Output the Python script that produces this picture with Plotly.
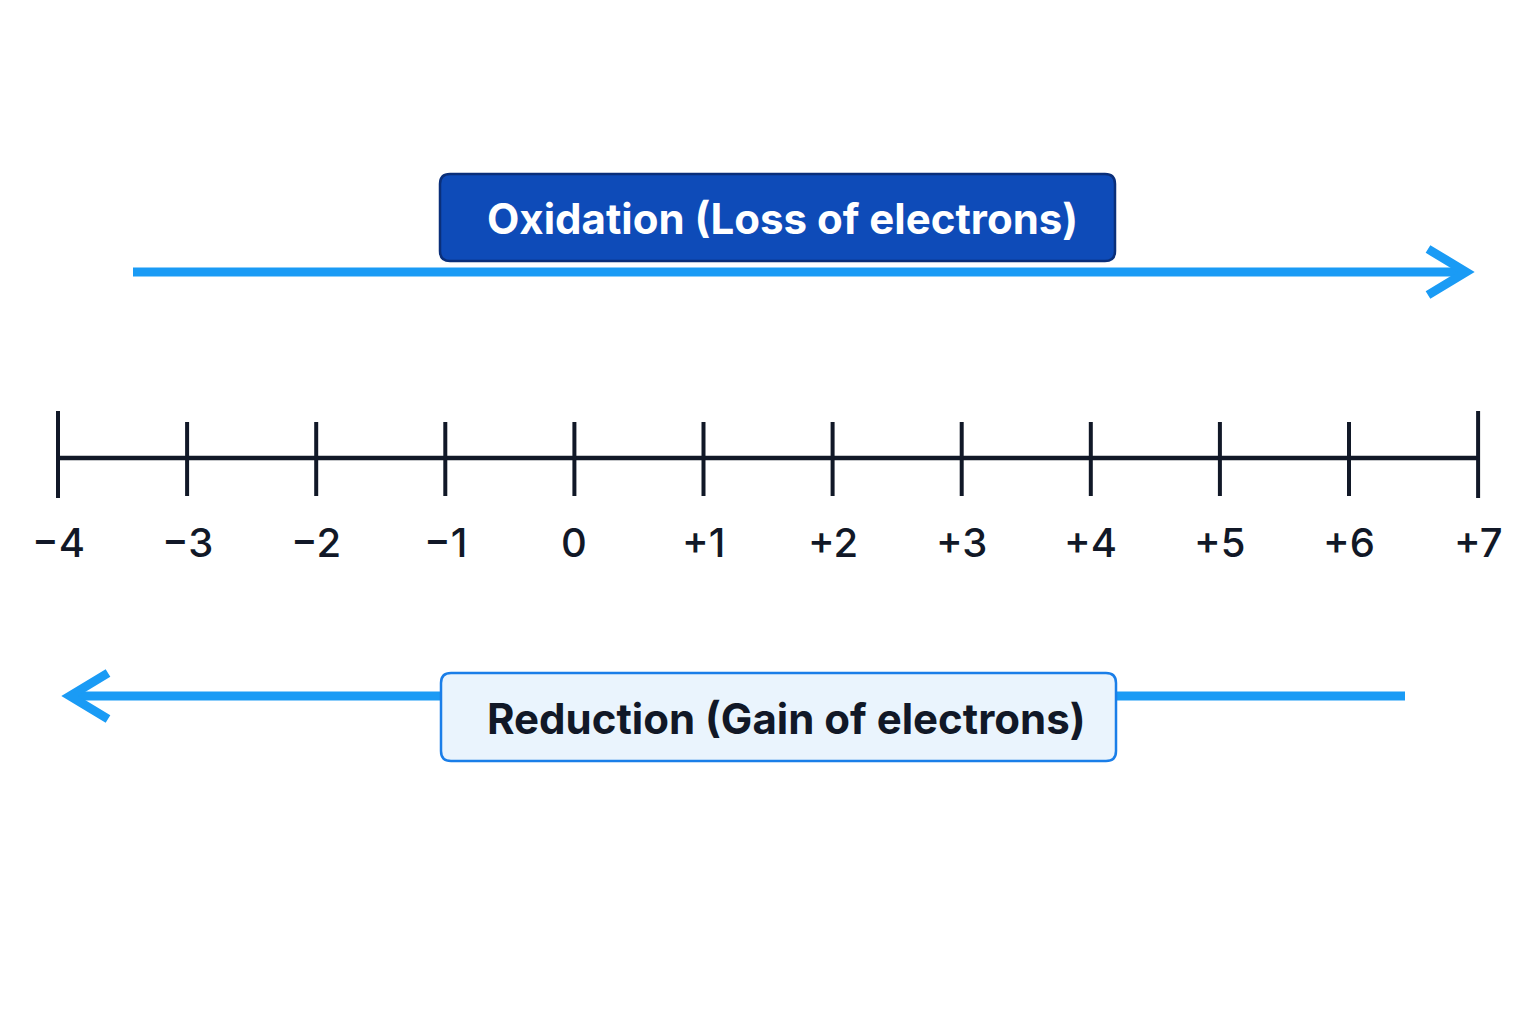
import plotly.graph_objects as go

values = list(range(-4, 8))
labels = ["−4", "−3", "−2", "−1", "0", "+1", "+2", "+3", "+4", "+5", "+6", "+7"]
ox_text = "Oxidation (Loss of electrons)"
red_text = "Reduction (Gain of electrons)"

U = 129.1  # px per unit
OFF = 8    # page body margin compensation
def px(p):  # pixel x -> data
    return -4 + (p - 58) / U

dark = "#111827"
blue = "#1a9bf5"
fig = go.Figure()

fig.add_trace(go.Scatter(x=[values[0], values[-1]], y=[458, 458], mode="lines",
                         line=dict(color=dark, width=4.5), hoverinfo="skip"))
tx, ty = [], []
for i, v in enumerate(values):
    top, bot = (411, 498) if i in (0, len(values) - 1) else (422, 496)
    tx += [v, v, None]; ty += [top, bot, None]
fig.add_trace(go.Scatter(x=tx, y=ty, mode="lines", line=dict(color=dark, width=4), hoverinfo="skip"))

for v, t in zip(values, labels):
    fig.add_annotation(x=v, y=542, text=t, showarrow=False,
                       font=dict(family="Inter", size=40, color=dark, weight=500))

fig.add_trace(go.Scatter(x=[px(133), px(1466)], y=[272, 272], mode="lines",
                         line=dict(color=blue, width=9), hoverinfo="skip"))
fig.add_trace(go.Scatter(x=[px(1428), px(1466), px(1428)], y=[249, 272, 295], mode="lines",
                         line=dict(color=blue, width=9), hoverinfo="skip"))
fig.add_trace(go.Scatter(x=[px(1405), px(70)], y=[696, 696], mode="lines",
                         line=dict(color=blue, width=9), hoverinfo="skip"))
fig.add_trace(go.Scatter(x=[px(108), px(70), px(108)], y=[673, 696, 719], mode="lines",
                         line=dict(color=blue, width=9), hoverinfo="skip"))

def rrect(x0, x1, y0, y1, r):
    X0, X1 = px(x0), px(x1)
    rx = r / U
    return (f"M {X0+rx},{y0} L {X1-rx},{y0} Q {X1},{y0} {X1},{y0+r} L {X1},{y1-r} "
            f"Q {X1},{y1} {X1-rx},{y1} L {X0+rx},{y1} Q {X0},{y1} {X0},{y1-r} "
            f"L {X0},{y0+r} Q {X0},{y0} {X0+rx},{y0} Z")

fig.add_shape(type="path", path=rrect(440, 1115, 174, 261, 10),
              fillcolor="#0e4bb8", line=dict(color="#0a2f7a", width=2.5), layer="above")
fig.add_annotation(x=px(782), y=218, text="<b>" + ox_text + "</b>", showarrow=False,
                   font=dict(family="Inter", size=42, color="white"))
fig.add_shape(type="path", path=rrect(441, 1116, 673, 761, 10),
              fillcolor="#eaf4fd", line=dict(color="#1a7ee8", width=2.5), layer="above")
fig.add_annotation(x=px(786), y=718, text="<b>" + red_text + "</b>", showarrow=False,
                   font=dict(family="Inter", size=42, color=dark))

fig.update_layout(width=1536, height=1024, margin=dict(l=0, r=0, t=0, b=0),
                  plot_bgcolor="white", paper_bgcolor="white", showlegend=False,
                  xaxis=dict(range=[px(0 + OFF), px(1536 + OFF)], visible=False, fixedrange=True),
                  yaxis=dict(range=[1024 + OFF, 0 + OFF], visible=False, fixedrange=True))
fig.write_html("out.html")
